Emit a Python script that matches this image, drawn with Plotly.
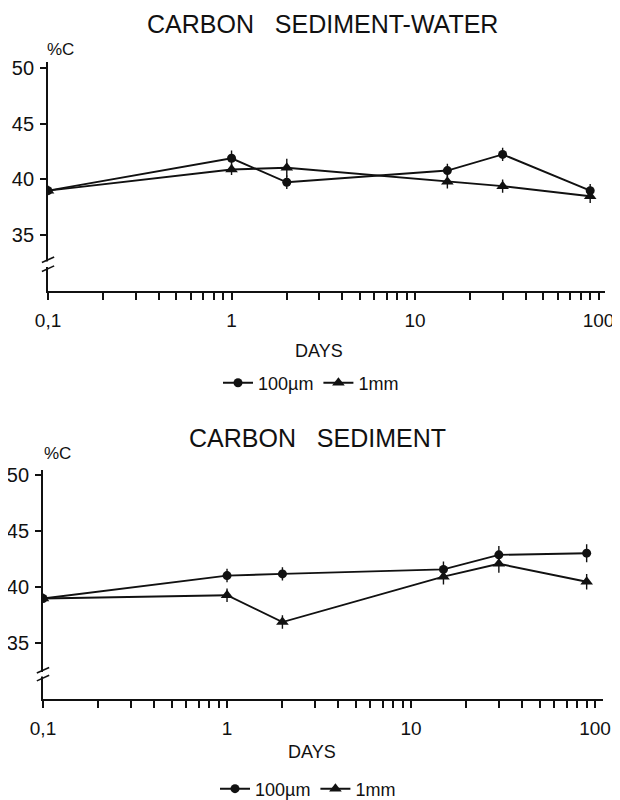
import plotly.graph_objects as go

# ---- data ----
days = [0.1, 1, 2, 15, 30, 90]

sw_100um = [39.0, 41.9, 39.75, 40.8, 42.25, 39.0]
sw_100um_err = [0.0, 0.7, 0.6, 0.6, 0.6, 0.6]
sw_1mm = [39.0, 40.9, 41.05, 39.8, 39.4, 38.5]
sw_1mm_err = [0.0, 0.5, 0.8, 0.6, 0.6, 0.6]

sed_100um = [39.0, 41.05, 41.2, 41.6, 42.9, 43.05]
sed_100um_err = [0.0, 0.6, 0.6, 0.7, 0.8, 0.8]
sed_1mm = [39.0, 39.3, 36.9, 40.95, 42.1, 40.5]
sed_1mm_err = [0.0, 0.6, 0.6, 0.7, 0.8, 0.7]

y_ticks = [35, 40, 45, 50]
x_major = [0.1, 1, 10, 100]
x_major_labels = ["0,1", "1", "10", "100"]
x_minor = [m * d for d in (0.1, 1, 10) for m in range(2, 10)]

series_names = ["100µm", "1mm"]
titles = ["CARBON\u00a0\u00a0\u00a0SEDIMENT-WATER", "CARBON\u00a0\u00a0\u00a0SEDIMENT"]

FONT = "Liberation Sans, Arial, sans-serif"
BLACK = "#111111"

fig = go.Figure()


def add_series(y, err, name, symbol, xa, ya, legend, size):
    fig.add_trace(go.Scatter(
        x=days, y=y, mode="lines+markers", name=name,
        xaxis=xa, yaxis=ya, legend=legend,
        line=dict(color=BLACK, width=1.9),
        marker=dict(symbol=symbol, size=size, color=BLACK),
        error_y=dict(type="data", array=err, thickness=1.4, width=0, color=BLACK),
    ))


add_series(sw_100um, sw_100um_err, series_names[0], "circle", "x", "y", "legend", 9)
add_series(sw_1mm, sw_1mm_err, series_names[1], "triangle-up", "x", "y", "legend", 11)
add_series(sed_100um, sed_100um_err, series_names[0], "circle", "x2", "y2", "legend2", 9)
add_series(sed_1mm, sed_1mm_err, series_names[1], "triangle-up", "x2", "y2", "legend2", 11)

tickvals = x_major + x_minor
ticktext = x_major_labels + [""] * len(x_minor)

xcommon = dict(type="log", showline=True, linecolor=BLACK, linewidth=1.9,
               ticks="outside", ticklen=7, tickwidth=1.5, tickcolor=BLACK,
               tickvals=tickvals, ticktext=ticktext, showgrid=False, zeroline=False,
               tickfont=dict(family=FONT, size=19, color=BLACK),
               ticklabelstandoff=4, automargin=False)
ycommon = dict(range=[30, 50.5], showline=True, linecolor=BLACK, linewidth=1.9,
               ticks="outside", ticklen=6, tickwidth=1.5, tickcolor=BLACK,
               tickvals=y_ticks, showgrid=False, zeroline=False,
               tickfont=dict(family=FONT, size=20, color=BLACK),
               ticklabelstandoff=2, automargin=False)

fig.update_layout(
    width=612, height=792,
    margin=dict(l=0, r=0, t=0, b=0, autoexpand=False),
    paper_bgcolor="white", plot_bgcolor="white",
    template="none",
    font=dict(family=FONT, color=BLACK),
    xaxis=dict(domain=[0.0654, 0.9755], range=[-1, 2.035], anchor="y", **xcommon),
    yaxis=dict(domain=[0.6427, 0.9313], anchor="x", **ycommon),
    xaxis2=dict(domain=[0.0572, 0.9722], range=[-1, 2.043], anchor="y2", **xcommon),
    yaxis2=dict(domain=[0.1271, 0.4170], anchor="x2", **ycommon),
    legend=dict(orientation="h", x=0.4951, xanchor="center", y=0.5265, yanchor="middle",
                font=dict(family=FONT, size=18, color=BLACK), bgcolor="rgba(0,0,0,0)",
                itemwidth=30, tracegroupgap=0),
    legend2=dict(orientation="h", x=0.4902, xanchor="center", y=0.0139, yanchor="middle",
                 font=dict(family=FONT, size=18, color=BLACK), bgcolor="rgba(0,0,0,0)",
                 itemwidth=30, tracegroupgap=0),
)


def label(text, x, y, size):
    return dict(text=text, x=x, y=y, xref="paper", yref="paper",
                xanchor="center", yanchor="middle", showarrow=False,
                font=dict(family=FONT, size=size, color=BLACK))


ann = [
    label(titles[0], 0.5147, 0.9798, 25),
    label(titles[1], 0.5065, 0.4571, 25),
    label("%C", 0.0866, 0.947, 17),
    label("%C", 0.0801, 0.4381, 17),
    label("DAYS", 0.5082, 0.5669, 18),
    label("DAYS", 0.4967, 0.0606, 18),
]
fig.update_layout(annotations=ann)

# axis-break marks on the y axes
shapes = []
for xr, yr, lo, hi in (("x domain", "y", 32.0, 32.8), ("x2 domain", "y2", 31.9, 32.6)):
    shapes.append(dict(type="rect", xref=xr, yref=yr, x0=-0.005, x1=0.005,
                       y0=lo + 0.15, y1=hi - 0.15, fillcolor="white",
                       line=dict(width=0), layer="above"))
    for c in (lo, hi):
        shapes.append(dict(type="line", xref=xr, yref=yr, x0=-0.011, x1=0.011,
                           y0=c - 0.25, y1=c + 0.25, line=dict(color=BLACK, width=1.6),
                           layer="above"))
fig.update_layout(shapes=shapes)

fig.write_html("out.html")
